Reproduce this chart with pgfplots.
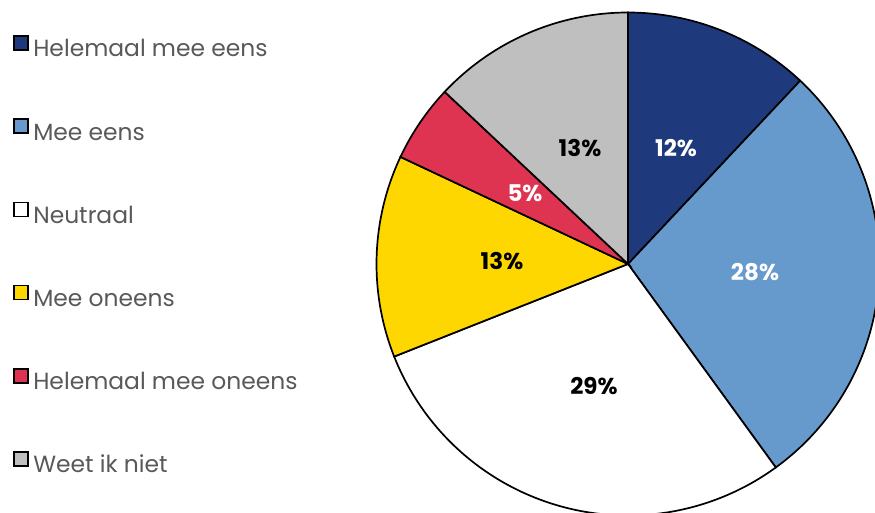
\documentclass[border=0pt]{standalone}
\usepackage{pgfplots}
\pgfplotsset{compat=1.18}
\usepackage{fontspec}
\setmainfont{Poppins}
\definecolor{cA}{HTML}{1F3A7C}
\definecolor{cB}{HTML}{6699CC}
\definecolor{cC}{HTML}{FFFFFF}
\definecolor{cD}{HTML}{FFD700}
\definecolor{cE}{HTML}{DE3452}
\definecolor{cF}{HTML}{BFBFBF}
\definecolor{legtext}{HTML}{595959}
\begin{document}
\begin{tikzpicture}
% shares (percent), in order clockwise from 12 o'clock
\def\vA{12}\def\vB{28}\def\vC{29}\def\vD{13}\def\vE{5}\def\vF{13}
\pgfmathsetmacro\aO{90}
\pgfmathsetmacro\aA{\aO-3.6*\vA}
\pgfmathsetmacro\aB{\aA-3.6*\vB}
\pgfmathsetmacro\aC{\aB-3.6*\vC}
\pgfmathsetmacro\aD{\aC-3.6*\vD}
\pgfmathsetmacro\aE{\aD-3.6*\vE}
\pgfmathsetmacro\aF{\aE-3.6*\vF}
\def\cx{628}\def\cy{249}\def\R{251.5}
\begin{axis}[
  x=1pt, y=1pt, xmin=0, xmax=875, ymin=0, ymax=513,
  hide axis, clip=true,
  legend cell align=left,
  legend style={at={(axis cs:13,478)}, anchor=north west, draw=none, fill=none,
    inner sep=0pt, row sep=56.4pt, column sep=0pt,
    font=\fontsize{23.4}{23.4}\selectfont, text=legtext,
    nodes={inner xsep=4.5pt, inner ysep=0pt, text height=17pt, text depth=5pt}},
  legend image code/.code={\draw[#1, line width=1.6pt, draw=black] (0pt,1pt) rectangle (14pt,15pt);},
  every axis plot/.append style={draw=black, line width=1.7pt, samples=90, variable=\t},
]
\addplot[fill=cA, domain=\aA:\aO] ({\cx+\R*cos(\t)},{\cy+\R*sin(\t)}) -- (\cx,\cy) -- cycle;
\addlegendentry{Helemaal mee eens}
\addplot[fill=cB, domain=\aB:\aA] ({\cx+\R*cos(\t)},{\cy+\R*sin(\t)}) -- (\cx,\cy) -- cycle;
\addlegendentry{Mee eens}
\addplot[fill=cC, domain=\aC:\aB] ({\cx+\R*cos(\t)},{\cy+\R*sin(\t)}) -- (\cx,\cy) -- cycle;
\addlegendentry{Neutraal}
\addplot[fill=cD, domain=\aD:\aC] ({\cx+\R*cos(\t)},{\cy+\R*sin(\t)}) -- (\cx,\cy) -- cycle;
\addlegendentry{Mee oneens}
\addplot[fill=cE, domain=\aE:\aD] ({\cx+\R*cos(\t)},{\cy+\R*sin(\t)}) -- (\cx,\cy) -- cycle;
\addlegendentry{Helemaal mee oneens}
\addplot[fill=cF, domain=\aF:\aE] ({\cx+\R*cos(\t)},{\cy+\R*sin(\t)}) -- (\cx,\cy) -- cycle;
\addlegendentry{Weet ik niet}
\begin{scope}[every node/.style={font=\bfseries\fontsize{23}{23}\selectfont, inner sep=0pt, text height=16pt, text depth=0pt, anchor=center}]
\node[text=white] at (axis cs:676,364) {\vA\%};
\node[text=white] at (axis cs:755,240) {\vB\%};
\node[text=black] at (axis cs:594,126) {\vC\%};
\node[text=black] at (axis cs:502,251) {\vD\%};
\node[text=white] at (axis cs:525,319) {\vE\%};
\node[text=black] at (axis cs:580,364) {\vF\%};
\end{scope}
\end{axis}
\pgfresetboundingbox
\useasboundingbox (current axis.south west) rectangle (current axis.north east);
\end{tikzpicture}
\end{document}
